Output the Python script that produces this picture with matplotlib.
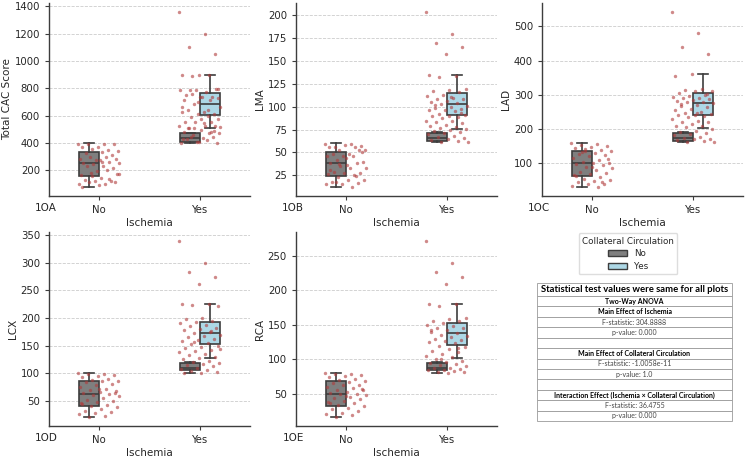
import numpy as np
import matplotlib.pyplot as plt
from matplotlib.patches import Patch

# ---- data ----
groups = ['No', 'Yes']

cac_no = [393, 391, 393, 393, 374, 369, 350, 355, 345, 338, 330, 314, 277, 282, 301, 301, 282, 277,
          253, 258, 248, 253, 229, 234, 217, 193, 169, 200, 181, 176, 144, 132, 125, 125, 103, 101,
          113, 113, 91, 77, 137, 157, 176, 263]
cac_yes = [1360, 1200, 1100, 1050, 900, 900, 900, 891, 797, 736, 748, 736, 785, 785, 772, 789, 797,
           736, 712, 712, 688, 664, 628, 640, 615, 615, 628, 640, 591, 579, 579, 555, 555, 555, 524,
           524, 507, 524, 410, 427, 470, 458, 475, 434, 427, 446, 410, 403, 422, 446, 398, 495, 483,
           483, 507, 519, 543, 507, 490, 700, 660, 600, 760, 730]
cac_box = [[77, 160, 252, 338, 398], [400, 405, 434, 470, 472], [507, 603, 688, 765, 900]]

lma_no = [59, 59, 56, 57, 58, 56, 56, 53, 53, 48, 48, 53, 46, 46, 46, 42, 40, 36, 38, 39, 35, 33,
          33, 29, 28, 28, 26, 25, 23, 20, 20, 18, 17, 16, 16, 12, 18, 51, 44, 31, 24, 37]
lma_yes = [204, 180, 170, 165, 158, 135, 134, 133, 119, 118, 117, 116, 113, 112, 110, 109, 108, 106,
           105, 104, 103, 101, 100, 99, 98, 97, 96, 95, 92, 91, 90, 90, 89, 88, 85, 84, 83, 82, 80,
           79, 78, 77, 76, 75, 73, 72, 71, 70, 68, 67, 66, 65, 64, 63, 62, 61, 111, 102, 93]
lma_box = [[12, 24, 38, 51, 60], [61, 62.6, 66, 71, 72], [76, 91, 103, 115, 135]]

lad_no = [158, 155, 152, 150, 148, 145, 140, 137, 135, 130, 128, 125, 120, 115, 110, 105, 102, 100,
          98, 95, 90, 85, 80, 75, 72, 68, 65, 60, 55, 50, 47, 44, 40, 38, 35, 30, 132, 112, 88, 62,
          45, 142]
lad_yes = [543, 480, 440, 420, 360, 355, 318, 315, 312, 310, 305, 300, 298, 295, 292, 290, 288, 285,
           282, 280, 278, 275, 270, 268, 265, 260, 255, 250, 248, 245, 242, 240, 238, 235, 230, 225,
           222, 220, 215, 210, 208, 205, 200, 195, 190, 188, 185, 182, 178, 175, 172, 170, 168, 165,
           163, 162, 246, 272, 302]
lad_box = [[30, 62, 100, 135, 159], [162, 166, 175, 188, 190], [202, 241, 275, 306, 360]]

lcx_no = [100, 99, 98, 97, 95, 93, 90, 88, 86, 85, 83, 80, 78, 75, 72, 70, 68, 66, 64, 62, 60, 58,
          55, 52, 50, 47, 45, 42, 40, 38, 35, 32, 30, 28, 25, 22, 20, 63, 71, 44]
lcx_yes = [340, 300, 283, 275, 262, 225, 225, 224, 222, 200, 198, 195, 192, 190, 188, 185, 182, 180,
           178, 175, 172, 170, 168, 165, 162, 160, 158, 155, 152, 150, 148, 145, 142, 140, 138, 135,
           132, 130, 128, 125, 122, 120, 118, 116, 114, 112, 110, 108, 106, 104, 102, 101, 100, 176,
           156, 143]
lcx_box = [[20, 40, 62, 85, 100], [100, 105, 110, 118, 120], [127, 152, 173, 192, 225]]

rca_no = [80, 79, 78, 77, 76, 74, 72, 70, 68, 67, 65, 63, 62, 60, 58, 56, 55, 53, 51, 50, 49, 48,
          46, 44, 42, 40, 38, 36, 34, 32, 30, 28, 25, 22, 20, 19, 16, 57, 47, 37]
rca_yes = [272, 240, 226, 220, 210, 180, 180, 178, 160, 158, 156, 155, 152, 150, 148, 146, 145, 143,
           140, 138, 136, 134, 132, 130, 128, 126, 125, 123, 120, 118, 115, 112, 110, 108, 105, 103,
           100, 98, 96, 95, 93, 92, 90, 88, 87, 86, 85, 84, 83, 82, 81, 80, 142, 117, 101]
rca_box = [[16, 32, 50, 68, 80], [80, 84, 88, 94, 96], [102, 121, 138, 153, 180]]

ylabels = ['Total CAC Score', 'LMA', 'LAD', 'LCX', 'RCA']
tags = ['1OA', '1OB', '1OC', '1OD', '1OE']

stat_rows = ['Statistical test values were same for all plots', 'Two-Way ANOVA',
             'Main Effect of Ischemia', 'F-statistic: 304.8888', 'p-value: 0.000', '',
             'Main Effect of Collateral Circulation', 'F-statistic: -1.0058e-11', 'p-value: 1.0', '',
             'Interaction Effect (Ischemia \u00d7 Collateral Circulation)', 'F-statistic: 36.4755',
             'p-value: 0.000']
bold_rows = [0, 1, 2, 6, 10]

#%% styling
gray_c = '#7f7f7f'
blue_c = '#add8e6'
edge_c = '#3d3d3d'
dot_c = '#b03a3a'
txt_c = '#262626'
fnt = 7.3

plt.rcParams['text.color'] = txt_c
plt.rcParams['axes.labelcolor'] = txt_c
plt.rcParams['xtick.color'] = txt_c
plt.rcParams['ytick.color'] = txt_c

fig = plt.figure(figsize=(7.5, 4.59), dpi=100)
pos = [[0.0653, 0.573, 0.268, 0.4205], [0.3947, 0.573, 0.268, 0.4205], [0.7227, 0.573, 0.268, 0.4205],
       [0.0653, 0.0719, 0.268, 0.4227], [0.3947, 0.0719, 0.268, 0.4227]]

panels = [(cac_no, cac_yes, cac_box), (lma_no, lma_yes, lma_box), (lad_no, lad_yes, lad_box),
          (lcx_no, lcx_yes, lcx_box), (rca_no, rca_yes, rca_box)]

def jitter(n):
    # deterministic spread of the strip points around the category
    return ((np.arange(n) * 0.618034) % 1 - 0.5) * 0.42

for i, (v_no, v_yes, box) in enumerate(panels):
    ax = fig.add_axes(pos[i])
    stats = [dict(whislo=b[0], q1=b[1], med=b[2], q3=b[3], whishi=b[4], fliers=[]) for b in box]
    bp = ax.bxp(stats, positions=[-0.1, 0.9, 1.1], widths=0.2, patch_artist=True, showfliers=False,
                manage_ticks=False,
                boxprops=dict(edgecolor=edge_c, linewidth=1.2),
                medianprops=dict(color=edge_c, linewidth=1.2),
                whiskerprops=dict(color=edge_c, linewidth=1.2),
                capprops=dict(color=edge_c, linewidth=1.2))
    for patch, c in zip(bp['boxes'], [gray_c, gray_c, blue_c]):
        patch.set_facecolor(c)
    ax.scatter(0 + jitter(len(v_no)), v_no, s=6, color=dot_c, alpha=0.6, linewidths=0, zorder=3)
    ax.scatter(1 + jitter(len(v_yes)), v_yes, s=6, color=dot_c, alpha=0.6, linewidths=0, zorder=3)

    ax.set_xlim(-0.5, 1.5)
    ax.set_xticks([0, 1])
    ax.set_xticklabels(groups)
    ax.set_xlabel('Ischemia', fontsize=7.5, labelpad=2)
    ax.set_ylabel(ylabels[i], fontsize=7.5, labelpad=2)
    ax.tick_params(labelsize=fnt, length=3, width=0.8, color=edge_c)
    ax.yaxis.grid(True, ls='--', lw=0.6, color='#cccccc')
    ax.set_axisbelow(True)
    for s in ['top', 'right']:
        ax.spines[s].set_visible(False)
    for s in ['left', 'bottom']:
        ax.spines[s].set_color(edge_c)
        ax.spines[s].set_linewidth(1.0)
    ax.text(-0.015, -0.035, tags[i], transform=ax.transAxes, ha='center', va='top', fontsize=7.5)

# legend in the empty slot
handles = [Patch(facecolor=gray_c, edgecolor=edge_c, label='No'),
           Patch(facecolor=blue_c, edgecolor=edge_c, label='Yes')]
fig.legend(handles=handles, title='Collateral Circulation', loc='upper center',
           bbox_to_anchor=(628 / 750, 1 - 229 / 459), fontsize=6.3, title_fontsize=6.3,
           handlelength=2.2, handleheight=0.7, labelspacing=0.4, borderpad=0.4,
           framealpha=1, edgecolor='#dddddd')

# stats table
tax = fig.add_axes([537 / 750, 1 - 421 / 459, 195 / 750, 138 / 459])
tax.axis('off')
tab = tax.table(cellText=[[r] for r in stat_rows], cellLoc='center', bbox=[0, 0, 1, 1])
tab.auto_set_font_size(False)
for (r, c), cell in tab.get_celld().items():
    cell.set_edgecolor('#9a9a9a')
    cell.set_linewidth(0.6)
    cell.set_height(1.25 if r == 0 else 1.0)
    t = cell.get_text()
    t.set_fontfamily('Lato')
    if r == 0:
        t.set_fontsize(6.8)
        t.set_fontweight('bold')
        t.set_color('black')
    elif r in bold_rows:
        t.set_fontsize(5)
        t.set_fontweight('bold')
        t.set_color('black')
    else:
        t.set_fontsize(5)
        t.set_color('#444444')

fig.savefig('out.png', dpi=100)
